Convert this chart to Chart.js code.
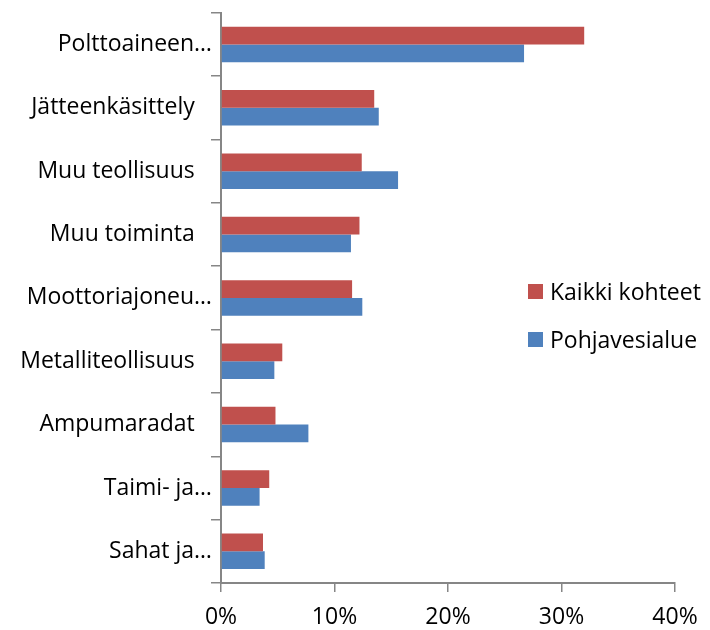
<!DOCTYPE html>
<html>
<head>
<meta charset="utf-8">
<script src="https://cdn.jsdelivr.net/npm/chart.js@4/dist/chart.umd.min.js"></script>
<style>
  html, body { margin: 0; padding: 0; background: #fff; }
  #wrap { position: relative; width: 710px; height: 630px; }
  #legend { position: absolute; left: 528px; top: 267px; font-family: "Open Sans", sans-serif; font-size: 23px; color: #000; }
  .row { display: flex; align-items: center; height: 48px; white-space: nowrap; }
  .sw { width: 15px; height: 15px; margin-right: 7px; }
</style>
</head>
<body>
<div id="wrap">
  <canvas id="c" width="710" height="630"></canvas>
  <div id="legend"></div>
</div>
<script>
const categories = ['Polttoaineen…', 'Jätteenkäsittely', 'Muu teollisuus', 'Muu toiminta', 'Moottoriajoneu…', 'Metalliteollisuus', 'Ampumaradat', 'Taimi- ja…', 'Sahat ja…'];
const seriesNames = ['Kaikki kohteet', 'Pohjavesialue'];
const kaikkiKohteet = [32.0, 13.5, 12.4, 12.2, 11.55, 5.4, 4.8, 4.25, 3.7];
const pohjavesialue = [26.7, 13.9, 15.6, 11.45, 12.45, 4.7, 7.7, 3.4, 3.85];
const xTickValues = [0, 10, 20, 30, 40];

const colors = ['#C0504D', '#4F81BD'];
const FONT = { family: '"Open Sans", sans-serif', size: 23 };
const AXIS = '#868686';

const chart = new Chart(document.getElementById('c'), {
  type: 'bar',
  data: {
    labels: categories,
    datasets: [
      { label: seriesNames[0], data: kaikkiKohteet, backgroundColor: colors[0] },
      { label: seriesNames[1], data: pohjavesialue, backgroundColor: colors[1] }
    ]
  },
  options: {
    indexAxis: 'y',
    responsive: false,
    animation: false,
    layout: { padding: { top: 9, right: 35, left: 0, bottom: 0 } },
    datasets: { bar: { categoryPercentage: 0.56, barPercentage: 1.0 } },
    plugins: { legend: { display: false }, tooltip: { enabled: false } },
    scales: {
      x: {
        min: 0, max: 40,
        afterBuildTicks: (s) => { s.ticks = xTickValues.map(v => ({ value: v })); },
        afterFit: (s) => { s.height = 47; },
        ticks: { font: FONT, color: '#000', padding: 12, callback: (v) => v + '%' },
        grid: { drawOnChartArea: false, drawTicks: true, tickLength: 9, color: AXIS, lineWidth: 1.5 },
        border: { color: AXIS, width: 2 }
      },
      y: {
        afterFit: (s) => { s.width = 221; },
        ticks: {
          font: FONT, color: '#000', padding: -1,
          callback: function (v, i) {
            const t = categories[i];
            return t.endsWith('…') ? t : t + '\u2002\u2005';
          }
        },
        grid: { offset: true, drawOnChartArea: false, drawTicks: true, tickLength: 10, color: AXIS, lineWidth: 1.5 },
        border: { color: AXIS, width: 2 }
      }
    }
  }
});

const legend = document.getElementById('legend');
chart.data.datasets.forEach((ds) => {
  const row = document.createElement('div');
  row.className = 'row';
  const sw = document.createElement('div');
  sw.className = 'sw';
  sw.style.background = ds.backgroundColor;
  const tx = document.createElement('span');
  tx.textContent = ds.label;
  row.appendChild(sw);
  row.appendChild(tx);
  legend.appendChild(row);
});
</script>
</body>
</html>
